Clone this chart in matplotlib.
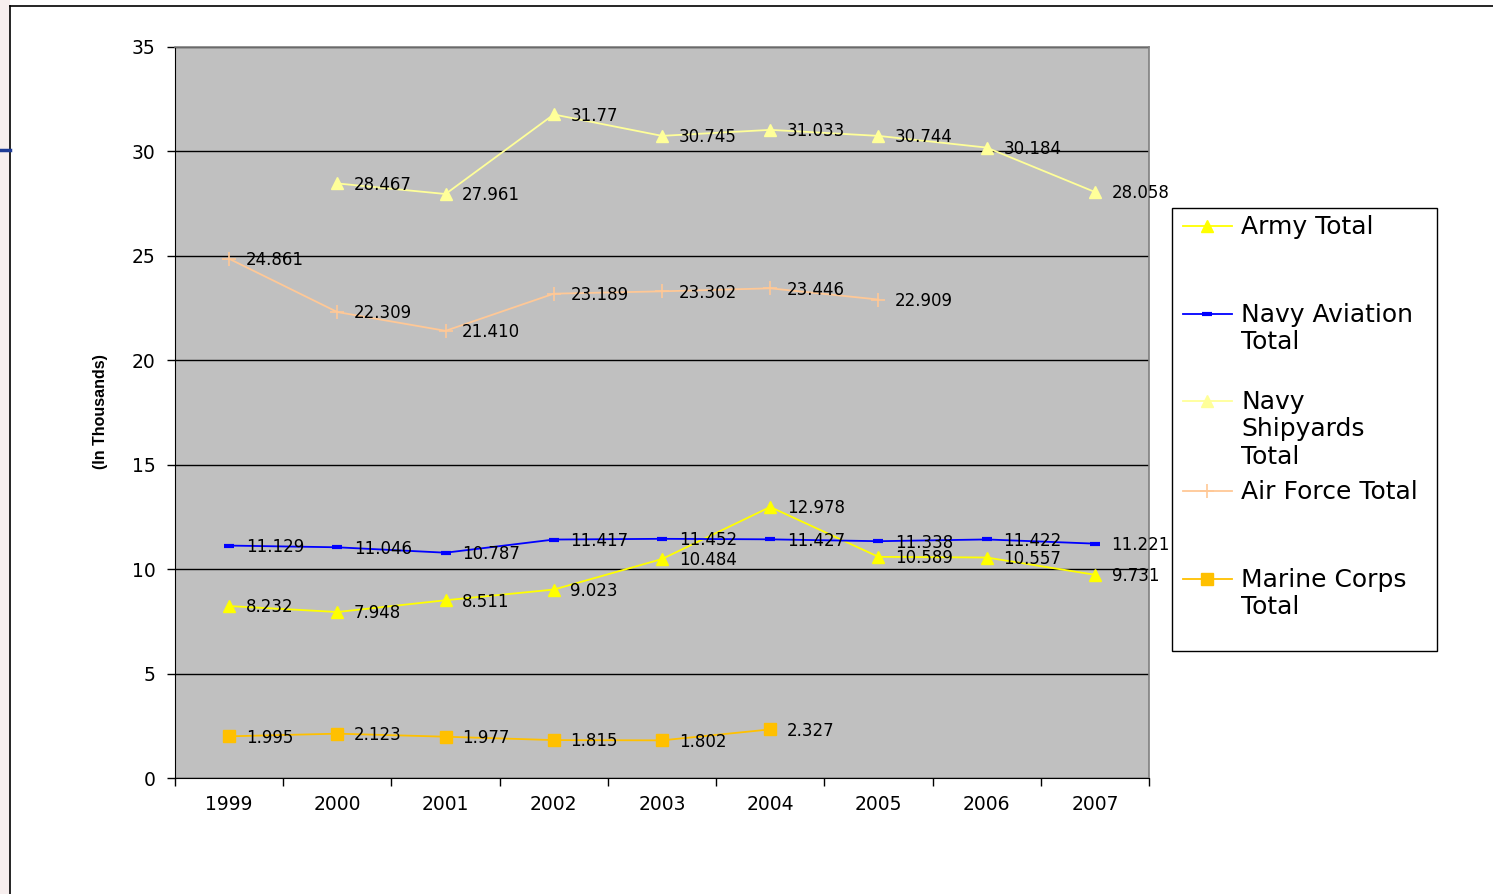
import matplotlib
matplotlib.use("Agg")
import matplotlib.pyplot as plt
from matplotlib.lines import Line2D
from matplotlib.patches import Rectangle
import numpy as np

plt.rcParams['font.family'] = ['DejaVu Sans']

years = ["1999", "2000", "2001", "2002", "2003", "2004", "2005", "2006", "2007"]
army = [8.232, 7.948, 8.511, 9.023, 10.484, 12.978, 10.589, 10.557, 9.731]
army_lbl = ["8.232", "7.948", "8.511", "9.023", "10.484", "12.978", "10.589", "10.557", "9.731"]
navy_av = [11.129, 11.046, 10.787, 11.417, 11.452, 11.427, 11.338, 11.422, 11.221]
navy_av_lbl = ["11.129", "11.046", "10.787", "11.417", "11.452", "11.427", "11.338", "11.422", "11.221"]
navy_ship = [None, 28.467, 27.961, 31.77, 30.745, 31.033, 30.744, 30.184, 28.058]
navy_ship_lbl = [None, "28.467", "27.961", "31.77", "30.745", "31.033", "30.744", "30.184", "28.058"]
air_force = [24.861, 22.309, 21.410, 23.189, 23.302, 23.446, 22.909, None, None]
air_force_lbl = ["24.861", "22.309", "21.410", "23.189", "23.302", "23.446", "22.909", None, None]
marine = [1.995, 2.123, 1.977, 1.815, 1.802, 2.327, None, None, None]
marine_lbl = ["1.995", "2.123", "1.977", "1.815", "1.802", "2.327", None, None, None]
y_ticks = [0, 5, 10, 15, 20, 25, 30, 35]

W, H = 1493, 894
fig = plt.figure(figsize=(W / 100, H / 100), dpi=100)
fig.patch.set_facecolor("white")

# page background / frame
fig.patches.append(Rectangle((0, 0), 10 / W, 1, transform=fig.transFigure,
                             facecolor="#f7eeee", edgecolor="none", zorder=0))
fig.add_artist(Line2D([10 / W, 10 / W], [0, 1 - 6 / H], transform=fig.transFigure,
                      color="black", lw=1.2))
fig.add_artist(Line2D([10 / W, 1], [1 - 6 / H, 1 - 6 / H], transform=fig.transFigure,
                      color="black", lw=1.2))
fig.add_artist(Line2D([0, 10 / W], [1 - 150 / H, 1 - 150 / H], transform=fig.transFigure,
                      color="#1f3c96", lw=2.5))

L, R, T, B = 175, 1149, 47, 778
ax = fig.add_axes([L / W, 1 - B / H, (R - L) / W, (B - T) / H])
ax.set_facecolor("#c0c0c0")

x = np.arange(len(years))

def arr(v):
    return np.array([np.nan if a is None else a for a in v], dtype=float)

series = [
    ("Army Total", army, army_lbl, dict(color="#ffff00", marker="^", ms=9, mfc="#ffff00", mec="#ffff00", lw=1.3)),
    ("Navy Aviation\nTotal", navy_av, navy_av_lbl, dict(color="#0000ff", marker="_", ms=7, mew=3, lw=1.3)),
    ("Navy\nShipyards\nTotal", navy_ship, navy_ship_lbl, dict(color="#ffff99", marker="^", ms=9, mfc="#ffff99", mec="#ffff99", lw=1.3)),
    ("Air Force Total", air_force, air_force_lbl, dict(color="#ffc896", marker="+", ms=10, mew=1.2, lw=1.3)),
    ("Marine Corps\nTotal", marine, marine_lbl, dict(color="#ffc000", marker="s", ms=8, mfc="#ffc000", mec="#ffc000", lw=1.3)),
]

for name, vals, lbls, st in series:
    ax.plot(x, arr(vals), zorder=3, clip_on=False, **st)
    for xi, v, lb in zip(x, vals, lbls):
        if v is None:
            continue
        ax.annotate(lb, (xi, v), xytext=(12, -1), textcoords="offset points",
                    ha="left", va="center", fontsize=12, color="black", zorder=4,
                    annotation_clip=False)

ax.set_xlim(-0.5, len(years) - 0.5)
ax.set_ylim(0, 35)
ax.set_yticks(y_ticks)
ax.set_yticklabels([str(t) for t in y_ticks], fontsize=13.5)
ax.yaxis.grid(True, color="black", lw=1.0)
ax.set_axisbelow(True)
ax.set_xticks(x)
ax.set_xticklabels(years, fontsize=13.5)
ax.set_xticks(np.arange(-0.5, len(years), 1.0), minor=True)
ax.tick_params(axis="x", which="major", length=0, pad=12)
ax.tick_params(axis="x", which="minor", length=6, direction="out", color="black", width=1)
ax.tick_params(axis="y", length=6, direction="out", color="black", width=1, pad=8)
for s in ["top", "right"]:
    ax.spines[s].set_color("#808080")
    ax.spines[s].set_linewidth(1.2)
ax.spines["left"].set_color("black")
ax.spines["bottom"].set_color("black")

fig.text(101 / W, 1 - 412 / H, "(In Thousands)", rotation=90, ha="center", va="center",
         fontsize=11.5, fontweight="bold", family="Liberation Sans")

# legend (manual, Excel style)
lx0, lx1, ly0, ly1 = 1172, 1437, 208, 651
fig.patches.append(Rectangle((lx0 / W, 1 - ly1 / H), (lx1 - lx0) / W, (ly1 - ly0) / H,
                             transform=fig.transFigure, facecolor="white",
                             edgecolor="black", lw=1.0, zorder=5))
entry_y = [226, 314, 401, 491, 579]
for (name, vals, lbls, st), ey in zip(series, entry_y):
    yy = 1 - ey / H
    fig.add_artist(Line2D([1183 / W, 1232 / W], [yy, yy], transform=fig.transFigure,
                          color=st["color"], lw=st["lw"], zorder=6))
    mk = {k: v for k, v in st.items() if k not in ("lw",)}
    fig.add_artist(Line2D([1207 / W], [yy], transform=fig.transFigure, ls="none",
                          zorder=7, **mk))
    fig.text(1241 / W, yy + 11 / H, name, ha="left", va="top", fontsize=18,
             linespacing=1.18, zorder=7)

fig.savefig("out.png", dpi=100)
